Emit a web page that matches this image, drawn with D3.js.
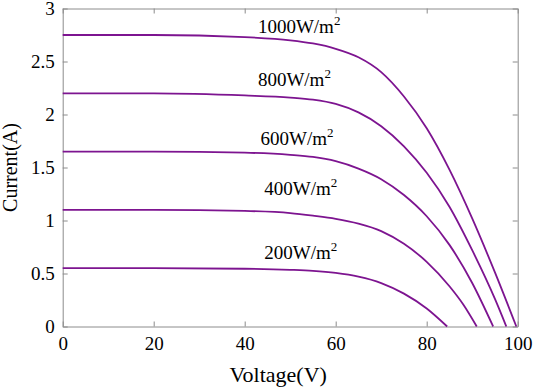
<!DOCTYPE html>
<html>
<head>
<meta charset="utf-8">
<title>I-V curves</title>
<script src="https://cdn.jsdelivr.net/npm/d3@7"></script>
<style>
  body { margin: 0; background: #fff; }
  svg text { font-family: "Liberation Serif", "Times New Roman", serif; fill: #000; }
  .axis path, .axis line { stroke: #8c8c8c; }
</style>
</head>
<body>
<div id="chart"></div>
<script>
  // irradiance levels (labels) and I-V samples
  const levels = ["1000", "800", "600", "400", "200"];

  const v1000 = [0, 20, 40, 50, 55, 60, 65, 70, 75, 80, 85, 90, 95, 99.7];
  const i1000 = [2.75, 2.75, 2.73, 2.70, 2.67, 2.62, 2.54, 2.40, 2.17, 1.87, 1.48, 1.02, 0.51, 0];

  const v800 = [0, 20, 40, 50, 55, 60, 65, 70, 75, 80, 85, 90, 95, 97.5];
  const i800 = [2.2, 2.2, 2.18, 2.16, 2.14, 2.10, 2.02, 1.89, 1.70, 1.45, 1.13, 0.72, 0.26, 0];

  const v600 = [0, 20, 40, 50, 55, 60, 65, 70, 75, 80, 85, 90, 94.6];
  const i600 = [1.65, 1.65, 1.64, 1.62, 1.60, 1.56, 1.49, 1.39, 1.24, 1.04, 0.77, 0.41, 0];

  const v400 = [0, 20, 40, 50, 55, 60, 65, 70, 75, 80, 85, 88, 91];
  const i400 = [1.1, 1.1, 1.09, 1.07, 1.045, 1.015, 0.97, 0.90, 0.78, 0.61, 0.38, 0.21, 0];

  const v200 = [0, 20, 40, 50, 55, 60, 65, 70, 75, 80, 84.5];
  const i200 = [0.55, 0.55, 0.545, 0.535, 0.525, 0.505, 0.47, 0.41, 0.31, 0.17, 0];

  const xTicks = [0, 20, 40, 60, 80, 100];
  const yTicks = [0, 0.5, 1, 1.5, 2, 2.5, 3];

  const series = [
    { name: levels[0], v: v1000, i: i1000 },
    { name: levels[1], v: v800, i: i800 },
    { name: levels[2], v: v600, i: i600 },
    { name: levels[3], v: v400, i: i400 },
    { name: levels[4], v: v200, i: i200 }
  ];

  const width = 536, height = 389;
  const margin = { top: 8.5, right: 18.3, bottom: 62.5, left: 62.7 };
  const w = width - margin.left - margin.right;
  const h = height - margin.top - margin.bottom;
  const serif = "Liberation Serif, Times New Roman, serif";

  const svg = d3.select("#chart").append("svg")
    .attr("width", width)
    .attr("height", height);

  const g = svg.append("g")
    .attr("transform", `translate(${margin.left},${margin.top})`);

  const x = d3.scaleLinear().domain([0, 100]).range([0, w]);
  const y = d3.scaleLinear().domain([0, 3]).range([h, 0]);
  const fmt = d => String(d);

  // box axes, ticks pointing inward
  const tick = 5;
  g.append("g").attr("class", "axis")
    .attr("transform", `translate(0,${h})`)
    .call(d3.axisBottom(x).tickValues(xTicks).tickFormat(fmt).tickSize(-tick).tickSizeOuter(0).tickPadding(10))
    .call(s => s.selectAll("text").attr("font-size", 19).attr("dy", "0.71em"));
  g.append("g").attr("class", "axis")
    .call(d3.axisTop(x).tickValues(xTicks).tickSize(-tick).tickSizeOuter(0).tickFormat(""));
  g.append("g").attr("class", "axis")
    .call(d3.axisLeft(y).tickValues(yTicks).tickFormat(fmt).tickSize(-tick).tickSizeOuter(0).tickPadding(8))
    .call(s => s.selectAll("text").attr("font-size", 19));
  g.append("g").attr("class", "axis")
    .attr("transform", `translate(${w},0)`)
    .call(d3.axisRight(y).tickValues(yTicks).tickSize(-tick).tickSizeOuter(0).tickFormat(""));
  g.selectAll(".axis").attr("font-family", serif);
  g.selectAll(".axis .domain").attr("stroke", "#8c8c8c");

  const line = d3.line()
    .x(d => x(d[0]))
    .y(d => y(d[1]))
    .curve(d3.curveMonotoneX);

  g.selectAll(".iv")
    .data(series)
    .join("path")
    .attr("class", "iv")
    .attr("fill", "none")
    .attr("stroke", "#7d1490")
    .attr("stroke-width", 1.8)
    .attr("d", s => line(s.v.map((v, k) => [v, s.i[k]])));

  // curve labels
  const labelAt = [[42.9, 2.77], [42.9, 2.27], [43.5, 1.71], [44.3, 1.24], [44.3, 0.64]];
  series.forEach((s, k) => {
    const t = g.append("text")
      .attr("x", x(labelAt[k][0]))
      .attr("y", y(labelAt[k][1]))
      .attr("font-family", serif)
      .attr("font-size", 19);
    t.append("tspan").text(s.name + "W/m");
    t.append("tspan").attr("font-size", 13).attr("dy", -8).text("2");
  });

  svg.append("text")
    .attr("x", margin.left + w / 2 - 12)
    .attr("y", 382)
    .attr("text-anchor", "middle")
    .attr("font-family", serif)
    .attr("font-size", 22)
    .text("Voltage(V)");

  svg.append("text")
    .attr("transform", `translate(17,${margin.top + h / 2}) rotate(-90)`)
    .attr("text-anchor", "middle")
    .attr("font-family", serif)
    .attr("font-size", 20)
    .text("Current(A)");
</script>
</body>
</html>
